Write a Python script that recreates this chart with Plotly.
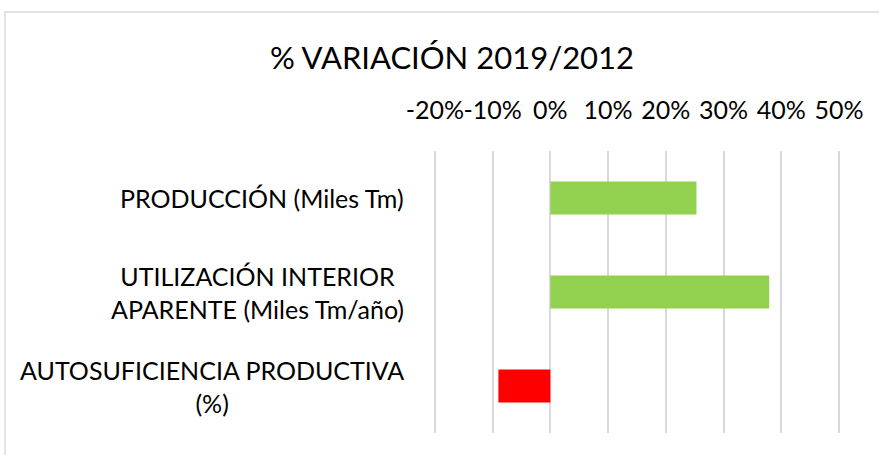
import plotly.graph_objects as go

categories = ["PRODUCCIÓN (Miles Tm)",
              "UTILIZACIÓN INTERIOR<br>APARENTE (Miles Tm/año)",
              "AUTOSUFICIENCIA PRODUCTIVA<br>(%)"]
values = [25.3, 37.9, -9.0]
colors = ["#92D050", "#92D050", "#FF0000"]
tick_vals = [-20, -10, 0, 10, 20, 30, 40, 50]
tick_text = ["-20%", "-10%", "0%", "10%", "20%", "30%", "40%", "50%"]

W, H = 879, 455
L, R, T, B = 432, 37, 151, 22
FONT = "Lato"

fig = go.Figure(go.Bar(
    y=categories, x=values, orientation="h",
    marker=dict(color=colors, line=dict(width=0)),
    width=0.35,
))

fig.update_layout(
    width=W, height=H,
    margin=dict(l=L, r=R, t=T, b=B),
    paper_bgcolor="white", plot_bgcolor="white",
    showlegend=False,
    font=dict(family=FONT, color="#000000"),
    title=dict(text="% VARIACIÓN 2019/2012", x=(452) / W, xanchor="center",
               y=1 - 58 / H, yanchor="middle",
               font=dict(family=FONT, size=31, color="#000000")),
    xaxis=dict(range=[-20.5, 50.5], side="top", tickvals=tick_vals, ticktext=tick_text,
               tickangle=0,
               showgrid=True, gridcolor="#D9D9D9", gridwidth=1.5,
               zeroline=False, showline=False, ticks="",
               ticklabelstandoff=26,
               tickfont=dict(family=FONT, size=25, color="#000000")),
    yaxis=dict(categoryorder="array", categoryarray=categories[::-1],
               showticklabels=False, showgrid=False, zeroline=False, showline=False,
               range=[-0.5, 2.5]),
)

plot_w = W - L - R
plot_h = H - T - B
for c in categories:
    fig.add_annotation(x=(406 - L) / plot_w, xref="paper", y=c, yref="y",
                       text=c, showarrow=False, xanchor="right", yanchor="middle",
                       align="center",
                       font=dict(family=FONT, size=25, color="#000000"))

# outer chart border (cut off at right and bottom like the reference)
fig.add_shape(type="rect", xref="paper", yref="paper",
              x0=(5 - L) / plot_w, x1=(890 - L) / plot_w,
              y0=(H - B - 470) / plot_h, y1=(H - B - 12) / plot_h,
              line=dict(color="#D9D9D9", width=1.5), fillcolor="rgba(0,0,0,0)",
              layer="below")

fig.write_html("out.html")
